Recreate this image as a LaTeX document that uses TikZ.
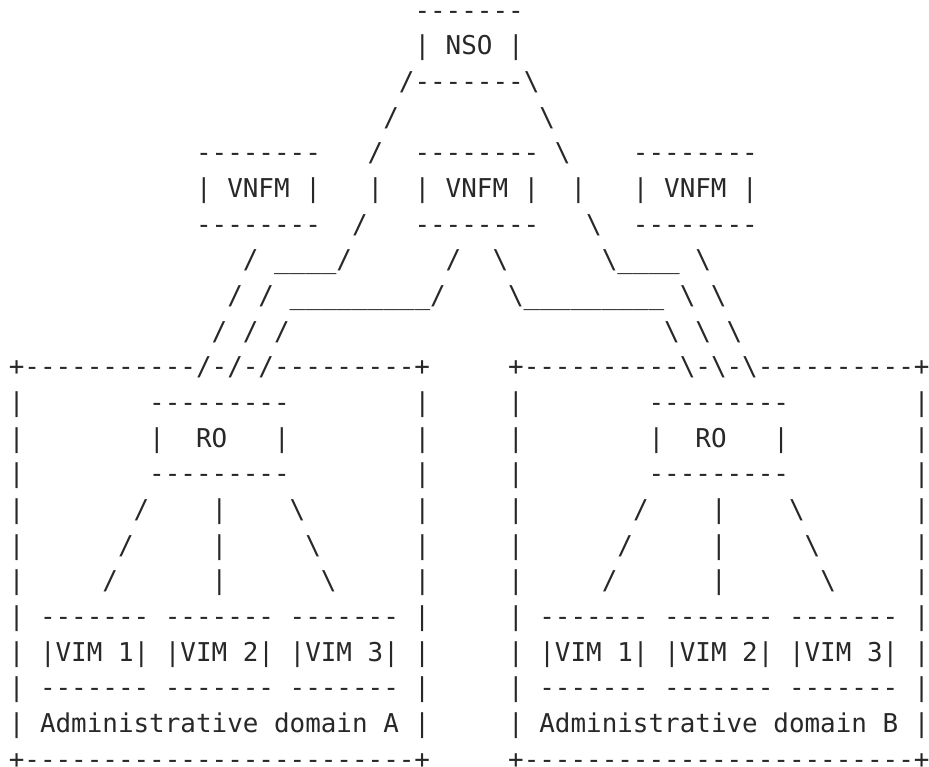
\documentclass[tikz,border=0pt]{standalone}
\usepackage{fontspec}
\setmonofont{DejaVu Sans Mono}
\definecolor{ink}{RGB}{40,40,40}
\newlength\cw
\setlength{\cw}{11.7039pt}
\newcommand\asciifont{\ttfamily\fontsize{19.44pt}{24pt}\selectfont}
\newcommand\spc[1]{\hbox to #1\cw{\hfil}}
\newcommand\B{\textbackslash}
\newcommand\U{\_\_\_\_}
\newcommand\UU{\_\_\_\_\_\_\_\_\_}
\tikzset{ascii/.style={anchor=base west, inner sep=0pt, outer sep=0pt, text=ink, font=\asciifont}}
\newcommand\asciiline[2]{\node[ascii] (l#1) at (8.8,{19.35+35.65*(#1-1)}) {#2};}
\begin{document}
\begin{tikzpicture}[x=0.75pt,y=-0.75pt]
\fill[white] (0,0) rectangle (929,767);
\useasboundingbox (0,0) rectangle (929,767);
\asciiline{1}{\spc{26}-------}
\asciiline{2}{\spc{26}|\spc{1}NSO\spc{1}|}
\asciiline{3}{\spc{25}/-------\B}
\asciiline{4}{\spc{24}/\spc{9}\B}
\asciiline{5}{\spc{12}--------\spc{3}/\spc{2}--------\spc{1}\B\spc{4}--------}
\asciiline{6}{\spc{12}|\spc{1}VNFM\spc{1}|\spc{3}|\spc{2}|\spc{1}VNFM\spc{1}|\spc{2}|\spc{3}|\spc{1}VNFM\spc{1}|}
\asciiline{7}{\spc{12}--------\spc{2}/\spc{3}--------\spc{3}\B\spc{2}--------}
\asciiline{8}{\spc{15}/\spc{1}\U/\spc{6}/\spc{2}\B\spc{6}\B\U\spc{1}\B}
\asciiline{9}{\spc{14}/\spc{1}/\spc{1}\UU/\spc{4}\B\UU\spc{1}\B\spc{1}\B}
\asciiline{10}{\spc{13}/\spc{1}/\spc{1}/\spc{24}\B\spc{1}\B\spc{1}\B}
\asciiline{11}{+-----------/-/-/---------+\spc{5}+----------\B-\B-\B----------+}
\asciiline{12}{|\spc{8}---------\spc{8}|\spc{5}|\spc{8}---------\spc{8}|}
\asciiline{13}{|\spc{8}|\spc{2}RO\spc{3}|\spc{8}|\spc{5}|\spc{8}|\spc{2}RO\spc{3}|\spc{8}|}
\asciiline{14}{|\spc{8}---------\spc{8}|\spc{5}|\spc{8}---------\spc{8}|}
\asciiline{15}{|\spc{7}/\spc{4}|\spc{4}\B\spc{7}|\spc{5}|\spc{7}/\spc{4}|\spc{4}\B\spc{7}|}
\asciiline{16}{|\spc{6}/\spc{5}|\spc{5}\B\spc{6}|\spc{5}|\spc{6}/\spc{5}|\spc{5}\B\spc{6}|}
\asciiline{17}{|\spc{5}/\spc{6}|\spc{6}\B\spc{5}|\spc{5}|\spc{5}/\spc{6}|\spc{6}\B\spc{5}|}
\asciiline{18}{|\spc{1}-------\spc{1}-------\spc{1}-------\spc{1}|\spc{5}|\spc{1}-------\spc{1}-------\spc{1}-------\spc{1}|}
\asciiline{19}{|\spc{1}|VIM\spc{1}1|\spc{1}|VIM\spc{1}2|\spc{1}|VIM\spc{1}3|\spc{1}|\spc{5}|\spc{1}|VIM\spc{1}1|\spc{1}|VIM\spc{1}2|\spc{1}|VIM\spc{1}3|\spc{1}|}
\asciiline{20}{|\spc{1}-------\spc{1}-------\spc{1}-------\spc{1}|\spc{5}|\spc{1}-------\spc{1}-------\spc{1}-------\spc{1}|}
\asciiline{21}{|\spc{1}Administrative\spc{1}domain\spc{1}A\spc{1}|\spc{5}|\spc{1}Administrative\spc{1}domain\spc{1}B\spc{1}|}
\asciiline{22}{+-------------------------+\spc{5}+-------------------------+}
\end{tikzpicture}
\end{document}
